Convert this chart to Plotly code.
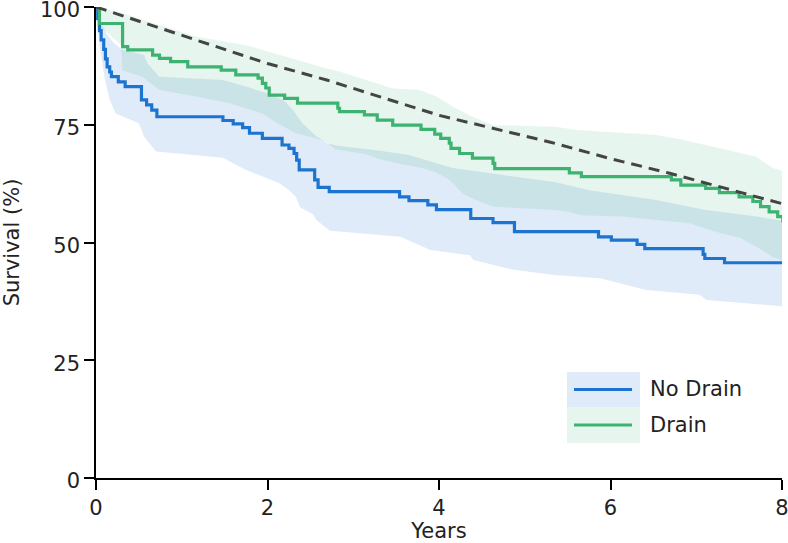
import plotly.graph_objects as go

# ---------------- data ----------------
years_label = "Years"
survival_label = "Survival (%)"
series_names = ["No Drain", "Drain"]

x_ticks = [0, 2, 4, 6, 8]
y_ticks = [0, 25, 50, 75, 100]

# Kaplan-Meier step curve, No Drain
nodrain_t = [0, 0.02, 0.04, 0.06, 0.09, 0.11, 0.13, 0.16, 0.18, 0.26, 0.34, 0.53, 0.59, 0.65, 0.71,
             1.48, 1.60, 1.71, 1.79, 1.94, 2.17, 2.25, 2.31, 2.34, 2.37, 2.55, 2.59, 2.72,
             3.54, 3.65, 3.87, 3.97, 4.37, 4.63, 4.88, 5.86, 6.01, 6.31, 6.40, 7.08, 7.10, 7.33, 8.05]
nodrain_s = [100, 97.5, 95, 93, 91, 89, 87.3, 86.2, 85.2, 84.1, 83.1, 80.3, 79.2, 78.1, 76.7,
             75.9, 75.2, 74.4, 73.2, 72.1, 70.7, 70.0, 68.9, 67.5, 65.4, 63.3, 61.7, 60.8,
             59.7, 58.9, 58.0, 57.0, 55.1, 54.2, 52.3, 51.2, 50.5, 49.6, 48.7, 47.5, 46.6, 45.7, 45.7]

# Kaplan-Meier step curve, Drain
drain_t = [0, 0.04, 0.31, 0.37, 0.66, 0.74, 0.87, 1.07, 1.46, 1.63, 1.89, 1.94, 1.98, 2.02, 2.20, 2.35,
           2.82, 2.84, 3.13, 3.28, 3.46, 3.79, 3.95, 4.02, 4.12, 4.14, 4.24, 4.39, 4.63, 4.65,
           5.52, 5.66, 6.71, 6.82, 7.11, 7.27, 7.50, 7.66, 7.75, 7.85, 7.95, 8.01, 8.05]
drain_s = [100, 96.5, 91.6, 90.9, 89.8, 89.1, 88.4, 87.3, 86.6, 85.6, 84.9, 83.8, 82.8, 81.3, 80.6, 79.6,
           78.5, 77.8, 77.1, 76.0, 74.9, 74.0, 73.0, 72.1, 71.1, 70.0, 68.9, 67.9, 66.8, 65.7,
           64.8, 64.0, 63.3, 62.2, 61.5, 60.6, 59.7, 58.7, 57.6, 56.5, 55.5, 54.6, 54.6]

# Confidence band, No Drain
nodrain_lo_t = [0, 0.04, 0.10, 0.16, 0.23, 0.50, 0.56, 0.70, 1.48, 1.75, 2.14, 2.26, 2.33, 2.38, 2.53,
                2.57, 2.68, 2.73, 3.55, 3.90, 4.36, 4.40, 4.87, 5.35, 5.88, 6.42, 7.04, 7.12, 8.05]
nodrain_lo = [100, 92, 85, 80.3, 77.4, 75.3, 72.5, 69.3, 68.0, 65.4, 62.6, 61.0, 59.7, 57.5, 56.0,
              54.8, 53.2, 52.5, 51.2, 48.4, 47.3, 46.3, 44.2, 43.1, 42.4, 39.9, 38.9, 37.8, 36.4]
nodrain_hi_t = [0, 0.05, 0.12, 0.20, 0.30, 0.56, 0.60, 0.74, 1.48, 1.75, 2.06, 2.20, 2.30, 2.40, 2.57,
                2.70, 2.84, 3.27, 3.65, 3.97, 4.16, 4.63, 5.36, 5.75, 6.53, 7.11, 7.70, 8.05]
nodrain_hi = [100, 97, 94.5, 92.5, 91, 89.8, 88, 85.2, 84.5, 83.1, 81.3, 80, 78, 75.5, 72.5,
              71, 70.5, 69.6, 68.6, 66.8, 65.8, 64.7, 62.8, 61.1, 59.0, 56.9, 55.5, 54.5]

# Confidence band, Drain
drain_lo_t = [0, 0.04, 0.29, 0.31, 0.54, 0.74, 1.17, 1.55, 1.94, 2.10, 2.33, 2.57, 2.68, 2.79, 3.14,
              3.29, 3.47, 3.80, 3.95, 4.11, 4.17, 4.24, 4.28, 4.40, 4.63, 5.36, 5.53, 5.66, 6.14,
              6.69, 6.92, 7.10, 7.28, 7.51, 7.70, 7.89, 8.05]
drain_lo = [100, 96, 92, 86.5, 85.2, 82.4, 81.0, 79.6, 77.4, 75.5, 73.2, 72.1, 71.4, 69.8, 68.8,
            67.8, 67.0, 65.8, 65.0, 63.5, 62.5, 61.0, 60.3, 59.3, 57.6, 56.9, 56.5, 55.8, 55.5,
            54.5, 54.1, 53.0, 52.0, 51.0, 49.1, 47.0, 45.9]
drain_hi_t = [0, 0.30, 0.50, 1.17, 1.75, 1.95, 2.20, 2.68, 2.84, 3.46, 3.77, 3.97, 4.16, 4.39, 4.63,
              5.36, 5.60, 6.53, 6.84, 7.70, 7.89, 8.05]
drain_hi = [100, 98.7, 97.5, 93.7, 91.9, 90.9, 89.5, 87.0, 86.3, 82.7, 82.4, 81.0, 78.8, 76.7, 74.9,
            74.6, 73.9, 72.8, 71.8, 68.2, 65.8, 65.0]

# Expected (reference population) survival
expected_t = [0, 1, 2, 2.69, 4, 5.3, 6, 6.69, 8.05]
expected_s = [100, 94, 88, 84.5, 77, 71.3, 67.8, 64.7, 58.0]

# ---------------- styling ----------------
BLUE = "rgb(28,116,208)"
GREEN = "rgb(60,179,113)"
BLUE_FILL = "rgba(28,116,208,0.14)"
GREEN_FILL = "rgba(60,179,113,0.13)"
FONT = "DejaVu Sans"
FS = 21

fig = go.Figure()

def band(t_lo, lo, t_hi, hi, color):
    xs = list(t_lo) + list(reversed(t_hi))
    ys = list(lo) + list(reversed(hi))
    fig.add_trace(go.Scatter(x=xs, y=ys, mode="lines", fill="toself", fillcolor=color,
                             line=dict(width=0), hoverinfo="skip", showlegend=False))

band(nodrain_lo_t, nodrain_lo, nodrain_hi_t, nodrain_hi, BLUE_FILL)
band(drain_lo_t, drain_lo, drain_hi_t, drain_hi, GREEN_FILL)

fig.add_trace(go.Scatter(x=nodrain_t, y=nodrain_s, mode="lines", name=series_names[0],
                         line=dict(color=BLUE, width=3.2, shape="hv"), showlegend=False))
fig.add_trace(go.Scatter(x=drain_t, y=drain_s, mode="lines", name=series_names[1],
                         line=dict(color=GREEN, width=3.2, shape="hv"), showlegend=False))
fig.add_trace(go.Scatter(x=expected_t, y=expected_s, mode="lines", name="Expected",
                         line=dict(color="#444444", width=3, dash="11px,7px"), showlegend=False))

# ---------------- manual legend (patch + line + label) ----------------
W, H = 788, 543
L, R, T, B = 96, 6, 7, 65
pw, ph = W - L - R, H - T - B

def px_x(p):
    return (p - L) / pw

def px_y(p):
    return (H - B - p) / ph

leg_items = [(series_names[0], BLUE, BLUE_FILL, 372, 407),
             (series_names[1], GREEN, GREEN_FILL, 407, 443)]
for name, lc, fc, top, bot in leg_items:
    fig.add_shape(type="rect", xref="paper", yref="paper",
                  x0=px_x(567), x1=px_x(640), y0=px_y(bot), y1=px_y(top),
                  fillcolor=fc, line=dict(width=0), layer="above")
    mid = (top + bot) / 2
    fig.add_shape(type="line", xref="paper", yref="paper",
                  x0=px_x(574), x1=px_x(632), y0=px_y(mid), y1=px_y(mid),
                  line=dict(color=lc, width=3.2), layer="above")
    fig.add_annotation(x=px_x(648), y=px_y(mid), xref="paper", yref="paper",
                       text=name, showarrow=False, xanchor="left", yanchor="middle",
                       font=dict(family=FONT, size=FS, color="#222222"))

axis_common = dict(showline=True, linecolor="black", linewidth=1.5, ticks="outside",
                   ticklen=10, tickwidth=1.5, tickcolor="black", showgrid=False, zeroline=False,
                   automargin=False, ticklabeloverflow="allow",
                   tickfont=dict(family=FONT, size=FS, color="#222222"),
                   title_font=dict(family=FONT, size=FS, color="#222222"))

fig.update_layout(
    width=W, height=H,
    margin=dict(l=L, r=R, t=T, b=B, autoexpand=False),
    plot_bgcolor="white", paper_bgcolor="white",
    showlegend=False,
    xaxis=dict(range=[0, 8], tickvals=x_ticks, title=dict(text=years_label, standoff=9), **axis_common),
    yaxis=dict(range=[0, 100], tickvals=y_ticks, ticklabelshift=3,
               title=dict(text=survival_label, standoff=15), **axis_common),
)

fig.write_html("out.html", config={"displayModeBar": False},
               post_script="document.body.style.margin='0';document.body.style.overflow='hidden';")
